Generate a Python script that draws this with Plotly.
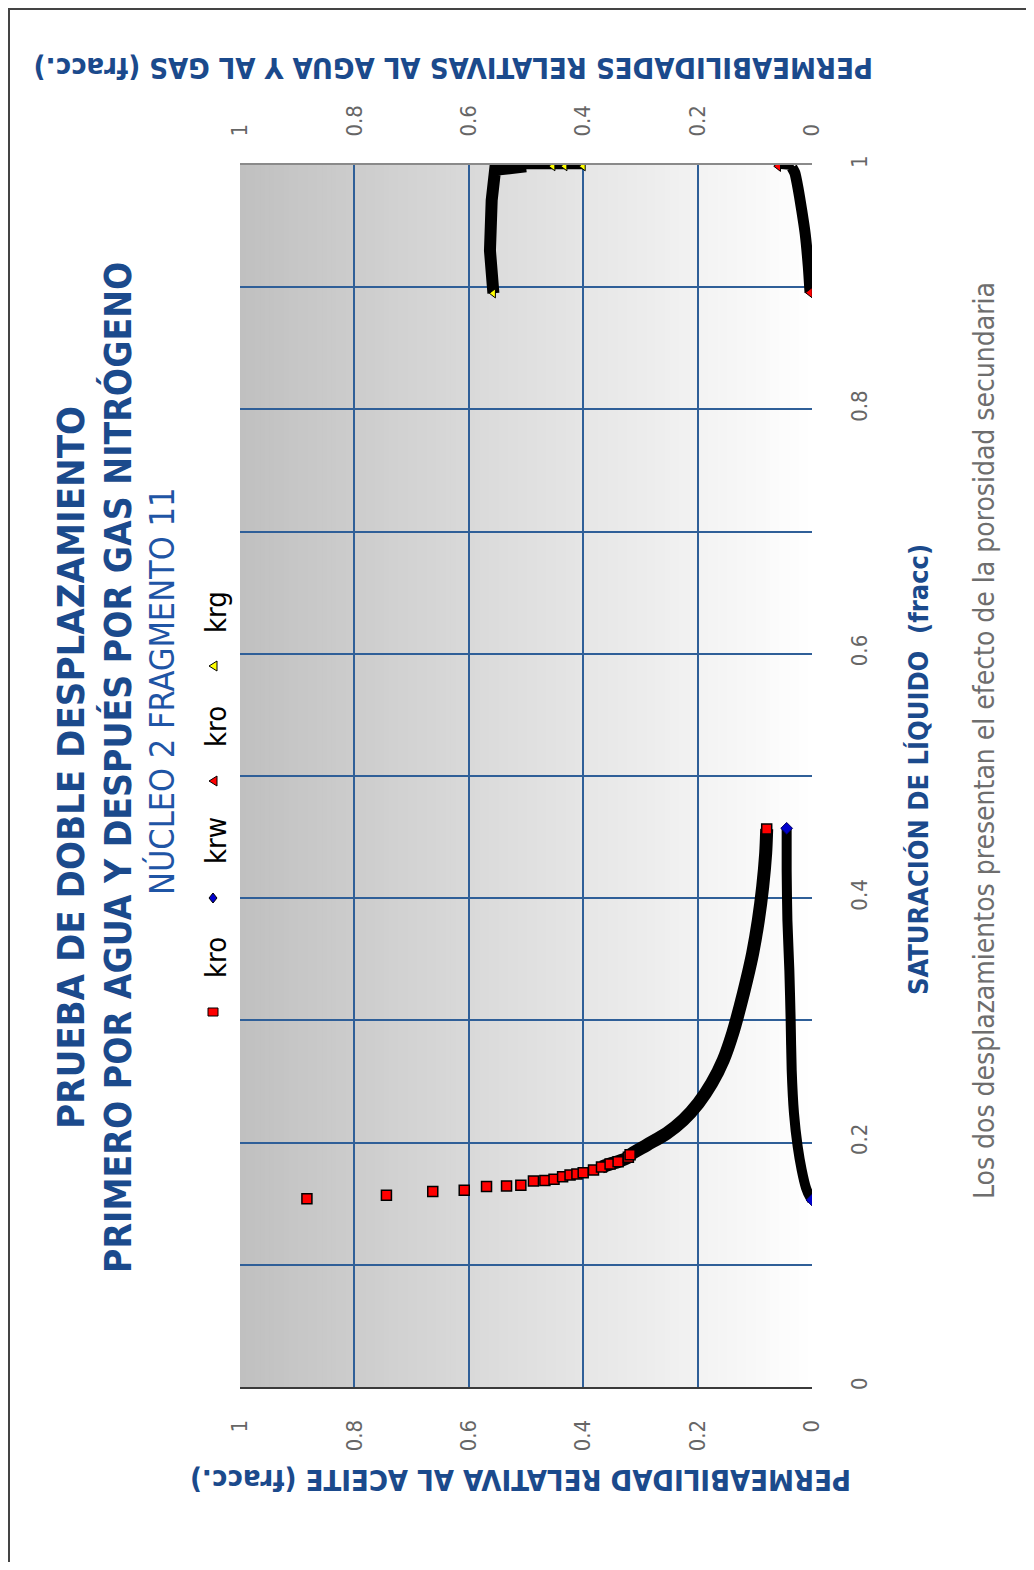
import plotly.graph_objects as go

# ---------------- DATA ----------------
# First displacement (water): liquid saturation vs kro (red squares)
kro1_sl = [0.154, 0.157, 0.160, 0.161, 0.164, 0.1645, 0.165, 0.1686, 0.169, 0.170,
           0.172, 0.1735, 0.1743, 0.1754, 0.1776, 0.180, 0.1825, 0.1844, 0.188, 0.190,
           0.198, 0.2076, 0.2185, 0.2322, 0.2485, 0.2676, 0.2894, 0.311, 0.333, 0.355,
           0.382, 0.4094, 0.4367, 0.4566]
kro1_k = [0.883, 0.744, 0.663, 0.608, 0.569, 0.534, 0.509, 0.487, 0.467, 0.451,
          0.436, 0.423, 0.411, 0.400, 0.382, 0.368, 0.353, 0.339, 0.321, 0.318,
          0.289, 0.254, 0.225, 0.1987, 0.1754, 0.155, 0.1387, 0.1259, 0.1142, 0.1037,
          0.0938, 0.0862, 0.081, 0.0792]

# krw (blue diamonds)
krw_sl = [0.153, 0.1555, 0.163, 0.1776, 0.1967, 0.224, 0.2594, 0.300, 0.341, 0.382, 0.423, 0.4572]
krw_k = [0.0, 0.0035, 0.0105, 0.018, 0.025, 0.0315, 0.0355, 0.0373, 0.0396, 0.043, 0.0443, 0.0443]

# Second displacement (nitrogen): kro (red triangles)
kro2_sl = [0.8955, 0.917, 0.944, 0.963, 0.980, 0.9935, 0.998, 0.999]
kro2_k = [0.0035, 0.0065, 0.012, 0.018, 0.024, 0.030, 0.035, 0.059]

# krg (yellow triangles)
krg_sl = [0.895, 0.930, 0.971, 0.996, 0.999, 0.999, 0.999, 0.999]
krg_k = [0.557, 0.563, 0.560, 0.554, 0.500, 0.453, 0.432, 0.400]

tick_vals = [0, 0.2, 0.4, 0.6, 0.8, 1]
tick_text = ["0", "0.2", "0.4", "0.6", "0.8", "1"]

# ---------------- STYLE ----------------
OFF = 8                                   # page body margin
W, H = 1034 - 2 * OFF, 1570 - 2 * OFF
L, R, T, B = 240, 812, 165, 1387          # plot area in page pixels
FONT = "DejaVu Sans Condensed, Liberation Sans Narrow, Arial Narrow, Liberation Sans, sans-serif"
BLUE_T = "#1b4a8c"
GRID = "#2f5f98"


def P(px, py):
    return (px - L) / (R - L), (B - py) / (B - T)


fig = go.Figure()

# kro (1st) dense band then markers
DENSE = 15
fig.add_trace(go.Scatter(x=kro1_k[DENSE:], y=kro1_sl[DENSE:], mode="lines",
                         line=dict(color="black", width=13, shape="spline", smoothing=0.8),
                         xaxis="x", yaxis="y", hoverinfo="skip"))
fig.add_trace(go.Scatter(x=kro1_k[:DENSE + 5] + kro1_k[-1:], y=kro1_sl[:DENSE + 5] + kro1_sl[-1:],
                         mode="markers", name="kro",
                         marker=dict(symbol="square", color="#ff0000", size=10,
                                     line=dict(color="black", width=1.5)),
                         xaxis="x", yaxis="y"))

# krw
fig.add_trace(go.Scatter(x=krw_k, y=krw_sl, mode="lines",
                         line=dict(color="black", width=10, shape="spline", smoothing=0.6),
                         xaxis="x2", yaxis="y", hoverinfo="skip"))
fig.add_trace(go.Scatter(x=[krw_k[0], krw_k[-1]], y=[krw_sl[0], krw_sl[-1]], mode="markers",
                         name="krw", marker=dict(symbol="diamond", color="#0000cc", size=9,
                                                 line=dict(color="#000066", width=1)),
                         xaxis="x2", yaxis="y"))

# kro (2nd)
fig.add_trace(go.Scatter(x=kro2_k[:-1], y=kro2_sl[:-1], mode="lines",
                         line=dict(color="black", width=11, shape="spline", smoothing=0.6),
                         xaxis="x", yaxis="y", hoverinfo="skip"))
fig.add_trace(go.Scatter(x=kro2_k[-3:], y=kro2_sl[-3:], mode="lines",
                         line=dict(color="black", width=5),
                         xaxis="x", yaxis="y", hoverinfo="skip"))
fig.add_trace(go.Scatter(x=[kro2_k[0], kro2_k[-1]], y=[kro2_sl[0], kro2_sl[-1]], mode="markers",
                         name="kro", marker=dict(symbol="triangle-left", color="#ff0000", size=9,
                                                 line=dict(color="black", width=1)),
                         xaxis="x", yaxis="y"))

# krg
fig.add_trace(go.Scatter(x=krg_k[:5], y=krg_sl[:5], mode="lines",
                         line=dict(color="black", width=12), xaxis="x2", yaxis="y",
                         hoverinfo="skip"))
fig.add_trace(go.Scatter(x=krg_k[3:], y=krg_sl[3:], mode="lines",
                         line=dict(color="black", width=6), xaxis="x2", yaxis="y",
                         hoverinfo="skip"))
fig.add_trace(go.Scatter(x=[krg_k[0]] + krg_k[5:], y=[krg_sl[0]] + krg_sl[5:], mode="markers",
                         name="krg", marker=dict(symbol="triangle-left", color="#ffff00", size=8,
                                                 line=dict(color="black", width=1)),
                         xaxis="x2", yaxis="y"))

shapes = []
# background gradient (grey at k=1 -> white at k=0)
N = 120
for i in range(N):
    k0 = i / N
    k1 = (i + 1) / N
    g = int(round(255 - 63 * (k0 + k1) / 2))
    shapes.append(dict(type="rect", xref="x", yref="y domain", x0=k0 - 0.002, x1=k1 + 0.002, y0=0, y1=1,
                       fillcolor=f"rgb({g},{g},{g})", line=dict(width=0), layer="below"))
# outer figure frame (only top/left visible)
fx0, fy0 = P(9, 1640)
fx1, fy1 = P(1080, 9)
shapes.append(dict(type="rect", xref="paper", yref="paper", x0=fx0, x1=fx1, y0=fy0, y1=fy1,
                   line=dict(color="#444444", width=2), fillcolor="rgba(0,0,0,0)", layer="below"))

# legend symbols (drawn as shapes, pixel sized)
lx = P(213, 0)[0]
leg_items = [(1012, "sq", "#ff0000", "kro"), (898, "di", "#0000cc", "krw"),
             (781, "tr", "#ff0000", "kro"), (666, "tr", "#ffff00", "krg")]
label_y = {1012: 958, 898: 841, 781: 727, 666: 612}
for py, kind, col, lab in leg_items:
    ya = P(0, py)[1]
    if kind == "sq":
        path = "M-5,-4 L5,-4 L5,4 L-5,4 Z"
    elif kind == "di":
        path = "M0,-5 L4,0 L0,5 L-4,0 Z"
    else:
        path = "M-4,0 L4,-5 L4,5 Z"
    shapes.append(dict(type="path", xref="paper", yref="paper", xsizemode="pixel", ysizemode="pixel",
                       xanchor=lx, yanchor=ya, path=path, fillcolor=col,
                       line=dict(color="black", width=1)))

annotations = []


def ann(px, py, text, size, color, angle=-90, bold=False, family=FONT):
    x, y = P(px, py)
    annotations.append(dict(x=x, y=y, xref="paper", yref="paper", text=(f"<b>{text}</b>" if bold else text),
                            showarrow=False, textangle=angle, xanchor="center", yanchor="middle",
                            font=dict(size=size, color=color, family=family)))


ann(71, 768, "PRUEBA DE DOBLE DESPLAZAMIENTO", 38, BLUE_T, bold=True)
ann(118, 768, "PRIMERO POR AGUA Y DESPUÉS POR GAS NITRÓGENO", 37, BLUE_T, bold=True)
ann(162, 692, "NÚCLEO 2 FRAGMENTO 11", 34, "#1f55a5")
for py, kind, col, lab in leg_items:
    ann(216, label_y[py], lab, 29, "black")
ann(918, 770, "SATURACIÓN DE LÍQUIDO  (fracc)", 27, BLUE_T, bold=True)
ann(985, 741, "Los dos desplazamientos presentan el efecto de la porosidad secundaria", 28, "#6e6e6e")
ann(521, 1480, "PERMEABILIDAD RELATIVA AL ACEITE (fracc.)", 29, BLUE_T, angle=180, bold=True)
ann(454, 68, "PERMEABILIDADES RELATIVAS AL AGUA Y AL GAS (fracc.)", 29, BLUE_T, angle=180, bold=True)

tickfont = dict(size=22, color="#666666", family=FONT)

fig.update_layout(
    width=W, height=H,
    margin=dict(l=L - OFF, r=W - (R - OFF), t=T - OFF, b=H - (B - OFF), pad=0),
    paper_bgcolor="white", plot_bgcolor="rgba(0,0,0,0)",
    showlegend=False,
    xaxis=dict(range=[1, 0], tickvals=tick_vals, ticktext=tick_text, tickangle=-90,
               showgrid=True, gridcolor=GRID, gridwidth=2, zeroline=False,
               showline=True, linecolor="#3a3a3a", linewidth=2, ticks="",
               tickfont=tickfont, layer="below traces", ticklabelstandoff=22),
    xaxis2=dict(range=[1, 0], overlaying="x", side="top", tickvals=tick_vals, ticktext=tick_text,
                tickangle=-90, showgrid=False, zeroline=False, showline=True,
                linecolor="#8a8a8a", linewidth=2, ticks="", tickfont=tickfont,
                layer="below traces", ticklabelstandoff=22),
    yaxis=dict(range=[0, 1], side="right", tickvals=tick_vals, ticktext=tick_text, tickangle=-90,
               showgrid=True, gridcolor=GRID, gridwidth=2, zeroline=False,
               minor=dict(dtick=0.1, showgrid=True, gridcolor=GRID, gridwidth=2, ticks=""),
               showline=False, ticks="", tickfont=tickfont, ticklabelstandoff=32),
    shapes=shapes,
    annotations=annotations,
)

fig.write_html("out.html")
